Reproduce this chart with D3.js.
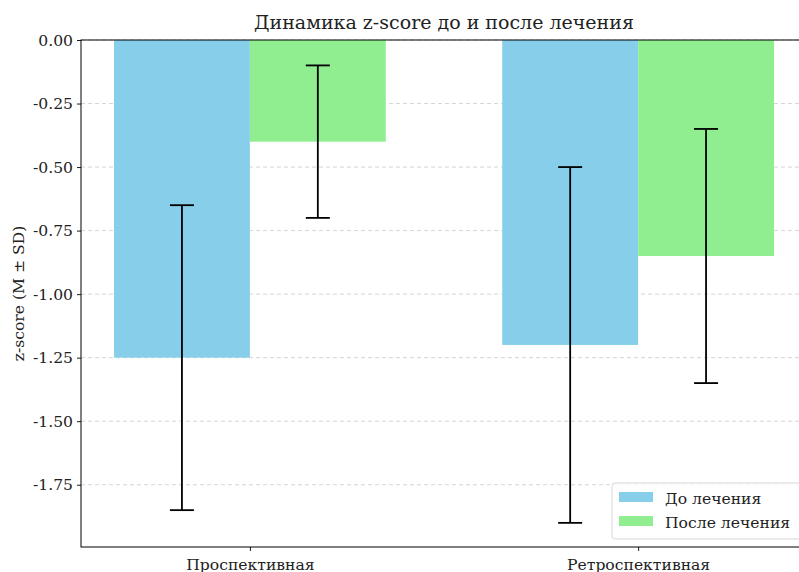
<!DOCTYPE html>
<html>
<head>
<meta charset="utf-8">
<script src="https://cdn.jsdelivr.net/npm/d3@7"></script>
<style>
  html, body { margin: 0; padding: 0; background: #fff; }
  svg { display: block; }
  text { font-family: "DejaVu Serif", "Liberation Serif", serif; fill: #222; }
</style>
</head>
<body>
<svg id="chart" width="799" height="572"></svg>
<script>
// Groups and treatment phases
const groups = ["Проспективная", "Ретроспективная"];
const phases = ["До лечения", "После лечения"];
const phaseColors = ["#87ceeb", "#90ee90"];

// Mean z-score per group, one array per phase
const meanBefore = [-1.25, -1.20];
const meanAfter = [-0.40, -0.85];
// Standard deviations
const sdBefore = [0.60, 0.70];
const sdAfter = [0.30, 0.50];

const yTicks = [0, -0.25, -0.5, -0.75, -1.0, -1.25, -1.5, -1.75];

const means = [meanBefore, meanAfter];
const sds = [sdBefore, sdAfter];

const svg = d3.select("#chart");
const plotLeft = 81, plotRight = 807, plotTop = 40, plotBottom = 547;
const labelSize = "15.6px";

// Numeric x domain: group index ± bar offsets with a small margin
const barW = 0.35;
const x = d3.scaleLinear().domain([-0.435, 1.435]).range([plotLeft, plotRight]);
const y = d3.scaleLinear().domain([-1.995, 0]).range([plotBottom, plotTop]);

// Horizontal dashed grid
svg.append("g")
  .selectAll("line")
  .data(yTicks)
  .join("line")
  .attr("x1", plotLeft).attr("x2", plotRight)
  .attr("y1", d => y(d)).attr("y2", d => y(d))
  .attr("stroke", "#d0d0d0")
  .attr("stroke-width", 0.9)
  .attr("stroke-dasharray", "4,3");

// Bars
const barData = [];
phases.forEach((p, pi) => {
  groups.forEach((g, gi) => {
    const offset = pi === 0 ? -barW / 2 : barW / 2;
    barData.push({ gi, pi, cx: gi + offset, m: means[pi][gi], sd: sds[pi][gi] });
  });
});

svg.append("g")
  .selectAll("rect")
  .data(barData)
  .join("rect")
  .attr("x", d => x(d.cx - barW / 2))
  .attr("width", d => x(d.cx + barW / 2) - x(d.cx - barW / 2))
  .attr("y", d => y(0))
  .attr("height", d => y(d.m) - y(0))
  .attr("fill", d => phaseColors[d.pi]);

// Error bars (mean ± SD)
const eb = svg.append("g").attr("stroke", "#000").attr("stroke-width", 1.8);
barData.forEach(d => {
  const cx = x(d.cx);
  eb.append("line").attr("x1", cx).attr("x2", cx)
    .attr("y1", y(d.m + d.sd)).attr("y2", y(d.m - d.sd));
  [d.m + d.sd, d.m - d.sd].forEach(v => {
    eb.append("line").attr("x1", cx - 12).attr("x2", cx + 12)
      .attr("y1", y(v)).attr("y2", y(v));
  });
});

// Axes
const fmt = d3.format(".2f");
const yAxis = d3.axisLeft(y).tickValues(yTicks)
  .tickFormat(d => fmt(d).replace("\u2212", "-"))
  .tickSize(4).tickPadding(4);
const gy = svg.append("g").attr("transform", `translate(${plotLeft},0)`).call(yAxis);
gy.selectAll("text").style("font-size", labelSize).style("font-family", '"DejaVu Serif", serif').attr("fill", "#222");
gy.select(".domain").remove();
gy.selectAll(".tick line").attr("stroke", "#000").attr("stroke-width", 0.9);

const xAxis = d3.axisBottom(x).tickValues([0, 1]).tickFormat(i => groups[i]).tickSize(4).tickPadding(8);
const gx = svg.append("g").attr("transform", `translate(0,${plotBottom})`).call(xAxis);
gx.selectAll("text").style("font-size", labelSize).style("font-family", '"DejaVu Serif", serif').attr("fill", "#222");
gx.select(".domain").remove();
gx.selectAll(".tick line").attr("stroke", "#000").attr("stroke-width", 0.9);

// Spines
svg.append("rect")
  .attr("x", plotLeft).attr("y", plotTop)
  .attr("width", plotRight - plotLeft).attr("height", plotBottom - plotTop)
  .attr("fill", "none").attr("stroke", "#000").attr("stroke-width", 1);

// Title
svg.append("text")
  .attr("x", (plotLeft + plotRight) / 2).attr("y", 29)
  .attr("text-anchor", "middle")
  .style("font-size", "19px")
  .text("Динамика z-score до и после лечения");

// Y label
svg.append("text")
  .attr("transform", `translate(24,${(plotTop + plotBottom) / 2}) rotate(-90)`)
  .attr("text-anchor", "middle")
  .style("font-size", labelSize)
  .text("z-score (M ± SD)");

// Legend
const lg = svg.append("g").attr("transform", "translate(612,483)");
lg.append("rect").attr("width", 195).attr("height", 56).attr("rx", 3)
  .attr("fill", "#fff").attr("fill-opacity", 0.8).attr("stroke", "#d6d6d6");
phases.forEach((p, i) => {
  const row = lg.append("g").attr("transform", `translate(7,${9 + i * 24})`);
  row.append("rect").attr("width", 34).attr("height", 10).attr("fill", phaseColors[i]);
  row.append("text").attr("x", 46).attr("y", 12).style("font-size", labelSize).text(p);
});
</script>
</body>
</html>
